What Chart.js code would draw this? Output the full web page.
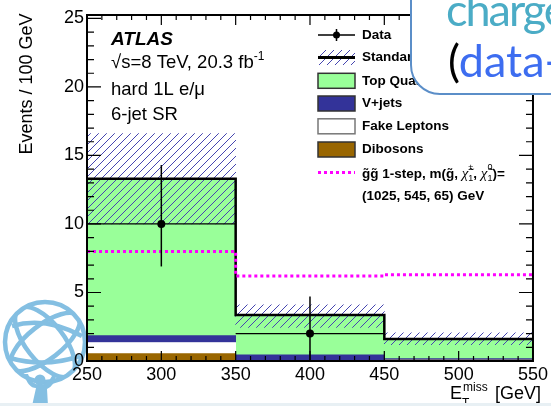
<!DOCTYPE html>
<html>
<head>
<meta charset="utf-8">
<script src="https://cdn.jsdelivr.net/npm/chart.js@4.4.0/dist/chart.umd.min.js"></script>
<style>
  html, body { margin: 0; padding: 0; background: #fff; }
  #wrap { position: relative; width: 551px; height: 406px; overflow: hidden; background: #fff; }
  #logo { position: absolute; left: 0; top: 296px; z-index: 0; }
  #chartBox { position: absolute; left: 0; top: 0; width: 551px; height: 406px; z-index: 1; }
  #callout { position: absolute; left: 410px; top: -40px; width: 200px; height: 135px; box-sizing: border-box;
             border: 2px solid #5b8ec8; border-radius: 30px; background: #fff; z-index: 2; }
  .big { position: absolute; z-index: 3; font-family: Lato, 'Open Sans', sans-serif; font-size: 45px; line-height: 45px; white-space: nowrap; }
  #slideEdge { position: absolute; left: 0; top: 403px; width: 551px; height: 3px; background: #e8f0f4; z-index: 4; }
</style>
</head>
<body>
<div id="wrap">
  <svg id="logo" width="100" height="110" viewBox="0 0 100 110">
    <defs><clipPath id="globeClip"><circle cx="45" cy="46" r="40"/></clipPath></defs>
    <g fill="none" stroke="#84bfe2" stroke-width="4.5">
      <circle cx="45" cy="46" r="40"/>
      <g clip-path="url(#globeClip)">
        <ellipse cx="45" cy="46" rx="19" ry="42" transform="rotate(-38 45 46)"/>
        <ellipse cx="45" cy="46" rx="42" ry="17" transform="rotate(-38 45 46)"/>
        <path d="M 12 30 Q 45 20 82 40"/>
        <path d="M 10 62 Q 45 72 80 60"/>
      </g>
    </g>
    <circle cx="40" cy="84" r="5.5" fill="#84bfe2"/>
    <path d="M 24 78 Q 28 92 36 92 L 32 110 L 48 110 L 47 93 Q 54 90 56 80 L 52 80 Q 48 88 40 89 Q 31 88 28 78 Z" fill="#84bfe2"/>
  </svg>
  <div id="chartBox"><canvas id="c"></canvas></div>
  <div id="callout"></div>
  <div class="big" style="left:446px; top:-13px; color:#4bacc6; letter-spacing:-2px;">charge</div>
  <div class="big" style="left:448px; top:38px; color:#000;">(<span style="color:#3d6df0;">data-</span></div>
  <div id="slideEdge"></div>
</div>
<script>
// bins (GeV)
const binLo = [250, 350, 450];
const binHi = [350, 450, 550];
const binCenter = [300, 400, 500];

// stacked SM backgrounds, events / 100 GeV
const dibosons = [0.55, 0.05, 0.07];
const fakeLeptons = [0.80, 0.0, 0.0];
const vJets = [0.50, 0.40, 0.10];
const topQuark = [11.45, 2.91, 1.43];

// SM uncertainty band and its lower edge line
const bandLow = [10.0, 2.45, 1.2];
const bandHigh = [16.6, 4.1, 2.05];
const lowEdgeLine = [10.0, 2.0, null];

// signal and data
const signal = [8.0, 6.2, 6.3];
const dataVals = [10, 2, null];
const dataErrHi = [14.3, 4.7, null];
const dataErrLo = [6.9, 0.05, null];

const xTicks = [250, 300, 350, 400, 450, 500, 550];
const yTicks = [0, 5, 10, 15, 20, 25];
const legendLabels = ['Data', 'Standard Model', 'Top Quarks', 'V+jets', 'Fake Leptons', 'Dibosons'];

const total = topQuark.map((v, i) => v + vJets[i] + fakeLeptons[i] + dibosons[i]);

const FONT = "'Liberation Sans', Arial, Helvetica, sans-serif";
const GREEN = '#99ff99', BLUE = '#333399', BROWN = '#996600';

const hatch = (function () {
  const c = document.createElement('canvas');
  c.width = 8; c.height = 8;
  const g = c.getContext('2d');
  g.strokeStyle = '#4646b0';
  g.lineWidth = 1;
  g.beginPath();
  g.moveTo(0, 8); g.lineTo(8, 0);
  g.moveTo(-1, 1); g.lineTo(1, -1);
  g.moveTo(7, 9); g.lineTo(9, 7);
  g.stroke();
  return g.createPattern(c, 'repeat');
})();

function xy(vals) {
  return vals.map((v, i) => ({ x: binCenter[i], y: v }));
}
function stepPts(vals) {
  const pts = vals.map((v, i) => ({ x: binLo[i], y: v }));
  pts.push({ x: binHi[binHi.length - 1], y: vals[vals.length - 1] });
  return pts;
}
function segPts(vals) {
  const pts = [];
  vals.forEach((v, i) => {
    if (v == null) return;
    pts.push({ x: binLo[i], y: v }, { x: binHi[i], y: v }, { x: binHi[i], y: null });
  });
  return pts;
}

// draw text made of several runs (normal / sup / sub)
function drawRuns(ctx, x, y, runs) {
  runs.forEach(r => {
    if (r.pair) {
      let w = 0;
      r.pair.forEach(p => {
        ctx.font = p.font;
        ctx.fillText(p.t, x, y + p.dy);
        w = Math.max(w, ctx.measureText(p.t).width);
      });
      x += w;
    } else {
      ctx.font = r.font;
      ctx.fillText(r.t, x, y + (r.dy || 0));
      x += ctx.measureText(r.t).width;
    }
  });
  return x;
}

const decor = {
  id: 'decor',
  afterDatasetsDraw(chart) {
    const ctx = chart.ctx, xs = chart.scales.x, ys = chart.scales.y;
    ctx.save();
    ctx.strokeStyle = '#000';
    ctx.lineWidth = 1.5;
    dataVals.forEach((v, i) => {
      if (v == null) return;
      const px = xs.getPixelForValue(binCenter[i]);
      ctx.beginPath();
      ctx.moveTo(px, ys.getPixelForValue(dataErrLo[i]));
      ctx.lineTo(px, ys.getPixelForValue(dataErrHi[i]));
      ctx.stroke();
    });
    ctx.restore();
  },
  afterDraw(chart) {
    const ctx = chart.ctx, xs = chart.scales.xl, ys = chart.scales.y;
    const { left, right, top, bottom } = chart.chartArea;
    ctx.save();
    ctx.strokeStyle = '#000';

    // tick marks inside the frame
    ctx.lineWidth = 1.2;
    ctx.beginPath();
    for (let v = xTicks[0]; v <= xTicks[xTicks.length - 1]; v += 10) {
      const px = xs.getPixelForValue(v);
      const len = xTicks.includes(v) ? 10 : 5;
      ctx.moveTo(px, bottom); ctx.lineTo(px, bottom - len);
      ctx.moveTo(px, top); ctx.lineTo(px, top + len);
    }
    for (let v = 0; v <= 25; v += 1) {
      const py = ys.getPixelForValue(v);
      const len = yTicks.includes(v) ? 14 : 7;
      ctx.moveTo(left, py); ctx.lineTo(left + len, py);
      ctx.moveTo(right, py); ctx.lineTo(right - len, py);
    }
    ctx.stroke();

    // frame
    ctx.lineWidth = 2;
    ctx.strokeRect(left, top, right - left, bottom - top);

    ctx.fillStyle = '#000';
    ctx.textBaseline = 'alphabetic';
    ctx.textAlign = 'left';

    // axis titles
    ctx.save();
    ctx.translate(32, 13.5);
    ctx.rotate(-Math.PI / 2);
    ctx.textAlign = 'right';
    ctx.font = '18px ' + FONT;
    ctx.fillText('Events / 100 GeV', 0, 0);
    ctx.restore();

    ctx.font = '18px ' + FONT;
    ctx.fillText('E', 450, 399);
    ctx.font = '12px ' + FONT;
    ctx.fillText('miss', 463, 391);
    ctx.fillText('T', 462, 407);
    ctx.font = '18px ' + FONT;
    ctx.textAlign = 'right';
    ctx.fillText('[GeV]', 541, 399);
    ctx.textAlign = 'left';

    // ATLAS labels
    ctx.font = 'italic bold 19px ' + FONT;
    ctx.fillText('ATLAS', 111, 45);
    const f185 = '18.5px ' + FONT;
    const endX = drawRuns(ctx, 111, 68.3, [{ t: '\u221as=8 TeV, 20.3 fb', font: f185 }]);
    ctx.font = '12px ' + FONT;
    ctx.fillText('-1', endX, 60);
    ctx.font = f185;
    ctx.fillText('hard 1L e/\u03bc', 111, 95);
    ctx.fillText('6-jet SR', 111, 120);

    // legend
    const lx0 = 318, lx1 = 355, tx = 362;
    const rows = [35, 57.5, 80.8, 103.5, 126.3, 149.5, 172.5, 194.5];
    ctx.font = 'bold 13.5px ' + FONT;
    ctx.textBaseline = 'middle';
    legendLabels.forEach((t, i) => ctx.fillText(t, tx, rows[i]));

    // data marker
    ctx.lineWidth = 1.5;
    ctx.beginPath();
    ctx.moveTo(lx0, rows[0]); ctx.lineTo(lx1, rows[0]);
    ctx.moveTo((lx0 + lx1) / 2, rows[0] - 6); ctx.lineTo((lx0 + lx1) / 2, rows[0] + 6);
    ctx.stroke();
    ctx.beginPath();
    ctx.arc((lx0 + lx1) / 2, rows[0], 3.5, 0, Math.PI * 2);
    ctx.fill();

    // SM: hatch + thick line
    ctx.fillStyle = hatch;
    ctx.fillRect(lx0, rows[1] - 7.5, lx1 - lx0, 15);
    ctx.fillStyle = '#000';
    ctx.lineWidth = 3;
    ctx.beginPath();
    ctx.moveTo(lx0, rows[1]); ctx.lineTo(lx1, rows[1]);
    ctx.stroke();

    // filled boxes
    const boxes = [[GREEN, '#333'], [BLUE, '#333'], ['#fff', '#777'], [BROWN, '#333']];
    boxes.forEach((b, i) => {
      const cy = rows[i + 2];
      ctx.fillStyle = b[0];
      ctx.fillRect(lx0, cy - 7.5, lx1 - lx0, 15);
      ctx.strokeStyle = b[1];
      ctx.lineWidth = 1.5;
      ctx.strokeRect(lx0, cy - 7.5, lx1 - lx0, 15);
    });

    // signal line
    ctx.strokeStyle = '#ff00ff';
    ctx.lineWidth = 3;
    ctx.setLineDash([3, 3]);
    ctx.beginPath();
    ctx.moveTo(lx0, rows[6]); ctx.lineTo(lx1, rows[6]);
    ctx.stroke();
    ctx.setLineDash([]);

    ctx.fillStyle = '#000';
    ctx.textBaseline = 'alphabetic';
    const fb = 'bold 13.5px ' + FONT;
    const fchi = 'italic 15px "Liberation Serif", serif';
    const fs = '9px ' + FONT;
    const base = rows[6] + 5;
    drawRuns(ctx, tx, base, [
      { t: 'g\u0303g\u0303 1-step, m(g\u0303, ', font: fb },
      { t: '\u03c7\u0303', font: fchi },
      { pair: [{ t: '\u00b1', font: fs, dy: -8 }, { t: '1', font: fs, dy: 3 }] },
      { t: ', ', font: fb },
      { t: '\u03c7\u0303', font: fchi },
      { pair: [{ t: '0', font: fs, dy: -8 }, { t: '1', font: fs, dy: 3 }] },
      { t: ')=', font: fb }
    ]);
    ctx.font = fb;
    ctx.fillText('(1025, 545, 65) GeV', tx, rows[7] + 5);

    ctx.restore();
  }
};

const barCommon = { type: 'bar', xAxisID: 'x', yAxisID: 'y', grouped: false, borderWidth: 0,
                    barPercentage: 1, categoryPercentage: 1 };

new Chart(document.getElementById('c'), {
  data: {
    datasets: [
      { type: 'line', label: 'Data', xAxisID: 'x', data: xy(dataVals), showLine: false,
        pointRadius: 4, pointBackgroundColor: '#000', pointBorderWidth: 0, order: 0 },
      { type: 'line', label: 'signal', xAxisID: 'x', data: stepPts(signal), stepped: true,
        borderColor: '#ff00ff', borderWidth: 3, borderDash: [3, 3], pointRadius: 0, fill: false, order: 1 },
      { type: 'line', label: 'Standard Model', xAxisID: 'x', data: stepPts(total), stepped: true,
        borderColor: '#000', borderWidth: 2.5, pointRadius: 0, fill: false, order: 2 },
      { type: 'line', label: 'low edge', xAxisID: 'x', data: segPts(lowEdgeLine),
        borderColor: '#000', borderWidth: 1.3, pointRadius: 0, fill: false, order: 3 },
      Object.assign({}, barCommon, { label: 'SM unc.', backgroundColor: hatch, order: 4,
        data: bandLow.map((v, i) => ({ x: binCenter[i], y: [v, bandHigh[i]] })) }),
      Object.assign({}, barCommon, { label: 'Dibosons', stack: 'sm', backgroundColor: BROWN, order: 5, data: xy(dibosons) }),
      Object.assign({}, barCommon, { label: 'Fake Leptons', stack: 'sm', backgroundColor: '#ffffff', order: 6, data: xy(fakeLeptons) }),
      Object.assign({}, barCommon, { label: 'V+jets', stack: 'sm', backgroundColor: BLUE, order: 7, data: xy(vJets) }),
      Object.assign({}, barCommon, { label: 'Top Quarks', stack: 'sm', backgroundColor: GREEN, order: 8, data: xy(topQuark) })
    ]
  },
  options: {
    responsive: true,
    maintainAspectRatio: false,
    animation: false,
    events: [],
    layout: { padding: { left: 0, right: 10, top: 15, bottom: 0 } },
    plugins: { legend: { display: false }, tooltip: { enabled: false } },
    scales: {
      x: {
        type: 'linear', position: 'bottom', offset: false, min: binLo[0], max: binHi[binHi.length - 1],
        grid: { display: false, drawTicks: false, offset: false }, border: { display: false },
        ticks: { stepSize: 100, display: false },
        afterFit: s => { s.height = 0; }
      },
      xl: {
        type: 'linear', position: 'bottom', offset: false, min: xTicks[0], max: xTicks[xTicks.length - 1],
        grid: { display: false, drawTicks: false }, border: { display: false },
        ticks: { stepSize: 50, padding: 3, color: '#000', font: { family: FONT, size: 18 } },
        afterFit: s => { s.height = 45; }
      },
      y: {
        type: 'linear', min: 0, max: 25.25,
        grid: { display: false, drawTicks: false }, border: { display: false },
        ticks: { stepSize: 5, includeBounds: false, padding: 3, color: '#000', font: { family: FONT, size: 18 } },
        afterFit: s => { s.width = 87; }
      }
    }
  },
  plugins: [decor]
});
</script>
</body>
</html>
